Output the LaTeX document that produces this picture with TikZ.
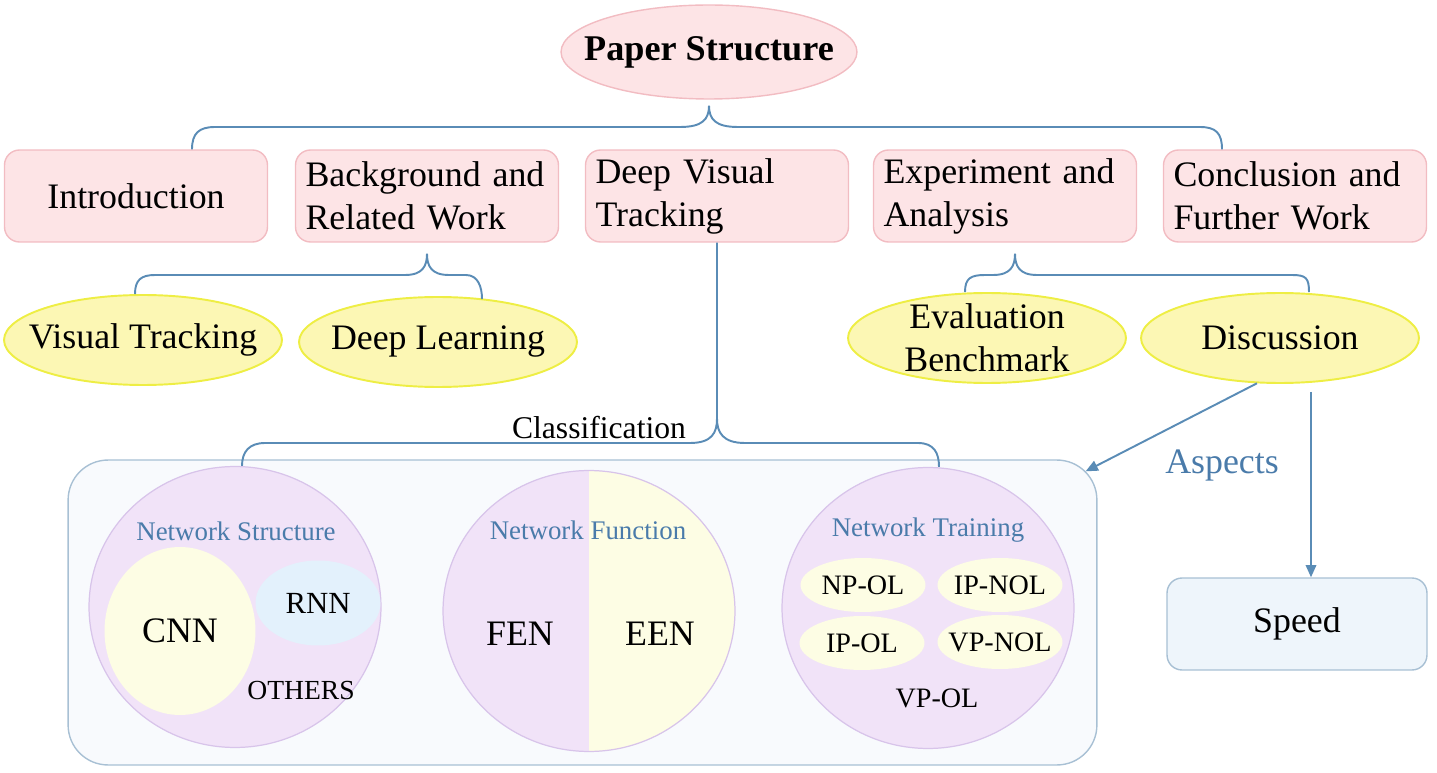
\documentclass[tikz,border=0pt]{standalone}
\usepackage{fontspec}
\setmainfont{Liberation Serif}
\usetikzlibrary{shapes.geometric,arrows.meta,calc}

\definecolor{pinkfill}{HTML}{FDE4E6}
\definecolor{pinkline}{HTML}{F2BCC2}
\definecolor{yelfill}{HTML}{FCF7B4}
\definecolor{yelline}{HTML}{EEEE44}
\definecolor{linkblue}{HTML}{5A8CB6}
\definecolor{labelblue}{HTML}{4A7BAA}
\definecolor{lavfill}{HTML}{F1E3F8}
\definecolor{lavline}{HTML}{D8C4EA}
\definecolor{palefill}{HTML}{FDFDE4}
\definecolor{skyfill}{HTML}{E3F1FC}
\definecolor{boxfill}{HTML}{F8FAFD}
\definecolor{boxline}{HTML}{A8C0D4}
\definecolor{speedfill}{HTML}{EEF5FB}

\tikzset{
  big/.style={font=\fontsize{20.4}{24.5}\selectfont},
  section/.style={rectangle,rounded corners=0.3cm,draw=pinkline,fill=pinkfill,line width=0.8pt,
    minimum width=5.26cm,minimum height=1.84cm,text width=4.86cm,align=left,inner xsep=0.2cm,big},
  topic/.style={ellipse,draw=yelline,fill=yelfill,line width=1.1pt,minimum width=5.56cm,
    minimum height=1.8cm,inner xsep=-0.4cm,inner ysep=-0.3cm,align=center,big},
  group/.style={ellipse,draw=lavline,fill=lavfill,line width=0.7pt,minimum width=5.84cm,minimum height=5.62cm},
  kind/.style={ellipse,fill=palefill,inner xsep=-0.25cm,inner ysep=-0.1cm,minimum width=2.5cm,minimum height=1.08cm,
    font=\fontsize{16}{19}\selectfont},
  caption/.style={text=labelblue,font=\fontsize{15.3}{18}\selectfont},
  link/.style={draw=linkblue,line width=1.1pt},
  arrowline/.style={link,-{Triangle[length=7pt,width=6pt]}},
}

\begin{document}
\begin{tikzpicture}[x=0.02cm,y=-0.02cm]
  \useasboundingbox (0,0) rectangle (1437,773);

  \node[ellipse,draw=pinkline,fill=pinkfill,line width=0.8pt,minimum width=5.92cm,minimum height=1.88cm,
    inner xsep=-0.45cm,inner ysep=-0.3cm,font=\fontsize{20.6}{24}\selectfont\bfseries] (paper) at (709,52) {Paper Structure};

  \node[section,align=center] (intro) at (136,196) {Introduction};
  \node[section] (background) at (427,196) {Background and\\Related Work};
  \node[section] (deep)       at (717,196) {Deep Visual\\Tracking};
  \node[section] (experiment) at (1005,196) {Experiment and\\Analysis};
  \node[section] (conclusion) at (1295,196) {Conclusion and\\Further Work};

  \node[topic] (visual)     at (143,340) {Visual Tracking};
  \node[topic] (learning)   at (438,342) {Deep Learning};
  \node[topic] (evaluation) at (987,338) {Evaluation\\Benchmark};
  \node[topic] (discussion) at (1280,338) {Discussion};

  \node[rectangle,rounded corners=0.8cm,draw=boxline,fill=boxfill,line width=0.8pt,
    minimum width=20.58cm,minimum height=6.1cm] (networks) at (582.5,612.5) {};

  \node[group] (structure) at (235,607) {};
  \node[caption] (structurelabel) at (236,531) {Network Structure};
  \node[ellipse,fill=palefill,minimum width=3.02cm,minimum height=3.36cm,inner sep=0pt,big] (cnn) at (180,631) {CNN};
  \node[ellipse,fill=skyfill,minimum width=2.5cm,minimum height=1.7cm,inner sep=0pt,
    font=\fontsize{17.5}{20}\selectfont] (rnn) at (318,603) {RNN};
  \node[font=\fontsize{15.7}{18}\selectfont] (others) at (301,690) {OTHERS};

  \node[group,path picture={\fill[palefill] (path picture bounding box.north)
    rectangle (path picture bounding box.south east);}] (function) at (589,611) {};
  \node[caption] (functionlabel) at (588,530) {Network Function};
  \node[big] (fen) at (520,634) {FEN};
  \node[big] (een) at (660,634) {EEN};

  \node[group] (training) at (928,608) {};
  \node[caption] (traininglabel) at (928,530) {Network Training};
  \foreach \n/\x/\y/\t in {npol/863/585/NP-OL, ipnol/1000/585/IP-NOL, ipol/862/643/IP-OL, vpnol/1000/642/VP-NOL}
    \node[kind] (\n) at (\x,\y) {\t};
  \node[font=\fontsize{16}{19}\selectfont] (vpol) at (937,698) {VP-OL};

  \node[rectangle,rounded corners=0.3cm,draw=boxline,fill=speedfill,line width=0.8pt,
    minimum width=5.2cm,minimum height=1.84cm,big] (speed) at (1297,624) {Speed};

  \node[big,text=labelblue] (aspects) at (1222,465) {Aspects};
  \node[font=\fontsize{18}{20}\selectfont] (classification) at (599,428) {Classification};

  % braces
  \coordinate (a1) at ($(paper.south)+(0,6)$);
  \draw[link] ($(intro.north)+(56,0)$) .. controls +(0,-16) and +(-16,0) .. (215,127) -- (680,127)
    .. controls +(22,0) and +(0,14) .. (a1) .. controls +(0,14) and +(-22,0) .. (738,127) -- (1200,127)
    .. controls +(16,0) and +(0,-16) .. ($(conclusion.north)+(-73,0)$);

  \coordinate (b1) at ($(background.south)+(0,11)$);
  \draw[link] ($(visual.north)+(-8,0)$) .. controls +(0,-14) and +(-14,0) .. (155,275) -- (405,275)
    .. controls +(18,0) and +(0,12) .. (b1) .. controls +(0,12) and +(-18,0) .. (449,275) -- (466,275)
    .. controls +(12,0) and +(0,-12) .. ($(learning.north)+(44,3)$);

  \coordinate (e1) at ($(experiment.south)+(10,11)$);
  \draw[link] ($(evaluation.north)+(-22,0)$) .. controls +(0,-14) and +(-14,0) .. (985,275) -- (993,275)
    .. controls +(18,0) and +(0,12) .. (e1) .. controls +(0,12) and +(-18,0) .. (1037,275) -- (1292,275)
    .. controls +(14,0) and +(0,-14) .. ($(discussion.north)+(29,0)$);

  \coordinate (c1) at ($(deep.south)+(0,176)$);
  \draw[link] (deep.south) -- (c1) .. controls +(0,14) and +(22,0) .. (690,443) -- (265,443)
    .. controls +(-16,0) and +(0,-14) .. ($(structure.north)+(7,0)$);
  \draw[link] (c1) .. controls +(0,14) and +(-22,0) .. (745,443) -- (918,443)
    .. controls +(16,0) and +(0,-14) .. ($(training.north)+(11,0)$);

  % arrows
  \draw[arrowline] (discussion.243) -- ($(networks.north east)+(-12,12)$);
  \coordinate (s1) at ($(speed.north)+(14,0)$);
  \draw[arrowline] ($(discussion.south -| s1)+(0,8)$) -- (s1);

\end{tikzpicture}
\end{document}
